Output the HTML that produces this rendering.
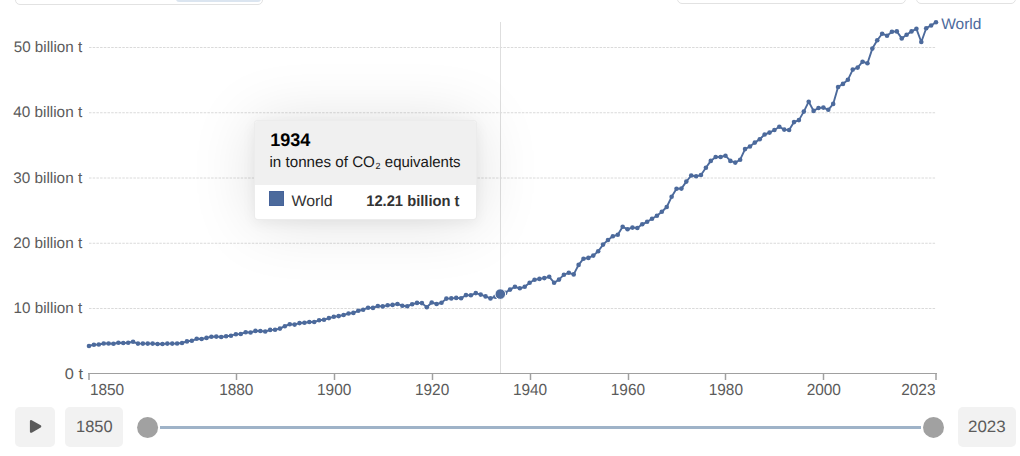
<!DOCTYPE html>
<html><head><meta charset="utf-8">
<style>
html,body{margin:0;padding:0;background:#fff;}
body{width:1020px;height:456px;position:relative;overflow:hidden;font-family:"Liberation Sans",sans-serif;}
.box{position:absolute;border:1px solid #e2e2e2;border-radius:5px;background:#fff;box-sizing:border-box;}
svg{position:absolute;left:0;top:0;}
text{font-family:"Liberation Sans",sans-serif;text-rendering:geometricPrecision;}
.tip{position:absolute;left:254px;top:120px;width:222px;height:100px;border-radius:5px;background:#fff;
  box-shadow:0 3px 14px rgba(0,0,0,0.06),0 2px 64px rgba(0,0,0,0.125);overflow:hidden;border:1px solid rgba(0,0,0,0.075);box-sizing:border-box;width:223px;border-radius:4px;}
.btn{position:absolute;top:407px;height:40px;background:#f2f2f2;border-radius:5px;}
</style></head><body>
<div class="box" style="left:15px;top:-40px;width:248px;height:45px;"></div>
<div style="position:absolute;left:176px;top:-10px;width:85px;height:12px;background:#dbe5f0;border-radius:3px;"></div>
<div class="box" style="left:677px;top:-40px;width:229px;height:44px;"></div>
<div class="box" style="left:916px;top:-40px;width:100px;height:44px;"></div>

<svg width="1020" height="456" viewBox="0 0 1020 456">
 <g stroke="#dadada" stroke-width="1" stroke-dasharray="2.5,1.2"><line x1="89" y1="47.5" x2="935.5" y2="47.5"/><line x1="89" y1="112.75" x2="935.5" y2="112.75"/><line x1="89" y1="178" x2="935.5" y2="178"/><line x1="89" y1="243.25" x2="935.5" y2="243.25"/><line x1="89" y1="308.5" x2="935.5" y2="308.5"/></g>
 <g><text x="13.7" y="52" font-size="15.3" fill="#5b5b5b" textLength="68.5" lengthAdjust="spacingAndGlyphs">50 billion t</text><text x="13.2" y="117.25" font-size="15.3" fill="#5b5b5b" textLength="69.0" lengthAdjust="spacingAndGlyphs">40 billion t</text><text x="13.2" y="182.5" font-size="15.3" fill="#5b5b5b" textLength="69.0" lengthAdjust="spacingAndGlyphs">30 billion t</text><text x="13.2" y="247.75" font-size="15.3" fill="#5b5b5b" textLength="69.0" lengthAdjust="spacingAndGlyphs">20 billion t</text><text x="13.6" y="313" font-size="15.3" fill="#5b5b5b" textLength="68.6" lengthAdjust="spacingAndGlyphs">10 billion t</text><text x="64.8" y="379" font-size="15.3" fill="#5b5b5b" textLength="18.2" lengthAdjust="spacingAndGlyphs">0 t</text></g>
 <line x1="500.5" y1="22" x2="500.5" y2="373.5" stroke="#dedede" stroke-width="1"/>
 <line x1="88" y1="373.5" x2="937" y2="373.5" stroke="#a0a0a0" stroke-width="1.2"/>
 <g stroke="#a0a0a0" stroke-width="1.5"><line x1="89.00" y1="374" x2="89.00" y2="380"/><line x1="236.50" y1="374" x2="236.50" y2="380"/><line x1="334.50" y1="374" x2="334.50" y2="380"/><line x1="432.50" y1="374" x2="432.50" y2="380"/><line x1="530.50" y1="374" x2="530.50" y2="380"/><line x1="628.50" y1="374" x2="628.50" y2="380"/><line x1="725.50" y1="374" x2="725.50" y2="380"/><line x1="823.50" y1="374" x2="823.50" y2="380"/><line x1="936.00" y1="374" x2="936.00" y2="380"/></g>
 <g><text x="89.9" y="395" font-size="16" fill="#5b5b5b" textLength="34.3" lengthAdjust="spacingAndGlyphs">1850</text><text x="219.13" y="395" font-size="16" fill="#5b5b5b" textLength="34.3" lengthAdjust="spacingAndGlyphs">1880</text><text x="317.05" y="395" font-size="16" fill="#5b5b5b" textLength="34.3" lengthAdjust="spacingAndGlyphs">1900</text><text x="414.97" y="395" font-size="16" fill="#5b5b5b" textLength="34.3" lengthAdjust="spacingAndGlyphs">1920</text><text x="512.89" y="395" font-size="16" fill="#5b5b5b" textLength="34.3" lengthAdjust="spacingAndGlyphs">1940</text><text x="610.8" y="395" font-size="16" fill="#5b5b5b" textLength="34.3" lengthAdjust="spacingAndGlyphs">1960</text><text x="708.72" y="395" font-size="16" fill="#5b5b5b" textLength="34.3" lengthAdjust="spacingAndGlyphs">1980</text><text x="806.64" y="395" font-size="16" fill="#5b5b5b" textLength="34.3" lengthAdjust="spacingAndGlyphs">2000</text><text x="901.2" y="395" font-size="16" fill="#5b5b5b" textLength="34.3" lengthAdjust="spacingAndGlyphs">2023</text></g>
 <path d="M89.00,346.00 L93.90,344.70 L98.79,344.50 L103.69,343.50 L108.58,343.50 L113.48,343.70 L118.38,342.70 L123.27,343.00 L128.17,342.70 L133.06,341.80 L137.96,343.60 L142.86,343.60 L147.75,343.60 L152.65,343.60 L157.54,344.00 L162.44,344.00 L167.34,343.60 L172.23,343.60 L177.13,343.50 L182.02,343.00 L186.92,341.40 L191.82,340.80 L196.71,338.80 L201.61,339.00 L206.50,337.90 L211.40,336.80 L216.29,336.60 L221.19,337.00 L226.09,336.20 L230.98,335.70 L235.88,334.20 L240.77,334.00 L245.67,332.20 L250.57,332.50 L255.46,330.90 L260.36,331.00 L265.25,331.50 L270.15,329.90 L275.05,329.70 L279.94,328.60 L284.84,326.20 L289.73,324.20 L294.63,324.60 L299.53,323.10 L304.42,322.70 L309.32,322.00 L314.21,322.00 L319.11,320.30 L324.01,319.80 L328.90,318.10 L333.80,316.80 L338.69,316.10 L343.59,315.00 L348.49,313.50 L353.38,312.90 L358.28,310.80 L363.17,309.70 L368.07,307.70 L372.97,307.90 L377.86,306.00 L382.76,306.40 L387.65,305.30 L392.55,304.90 L397.45,304.00 L402.34,305.70 L407.24,306.20 L412.13,304.20 L417.03,302.90 L421.92,303.10 L426.82,307.30 L431.72,302.50 L436.61,304.00 L441.51,302.80 L446.40,298.60 L451.30,298.40 L456.20,297.90 L461.09,298.20 L465.99,295.10 L470.88,295.30 L475.78,293.10 L480.68,294.60 L485.57,296.40 L490.47,298.40 L495.36,296.70 L500.26,294.20 L505.16,292.90 L510.05,289.60 L514.95,286.80 L519.84,288.30 L524.74,286.80 L529.64,282.80 L534.53,279.80 L539.43,278.90 L544.32,278.10 L549.22,276.80 L554.12,282.70 L559.01,279.60 L563.91,274.70 L568.80,272.80 L573.70,274.40 L578.60,264.90 L583.49,258.70 L588.39,257.90 L593.28,255.60 L598.18,251.20 L603.08,244.60 L607.97,240.00 L612.87,236.30 L617.76,234.70 L622.66,226.80 L627.55,229.20 L632.45,227.60 L637.35,228.00 L642.24,224.30 L647.14,221.80 L652.03,218.80 L656.93,215.80 L661.83,211.80 L666.72,207.00 L671.62,196.80 L676.51,188.70 L681.41,188.60 L686.31,181.60 L691.20,175.50 L696.10,176.30 L700.99,175.00 L705.89,167.80 L710.79,160.90 L715.68,157.00 L720.58,157.00 L725.47,155.70 L730.37,160.90 L735.27,162.60 L740.16,159.70 L745.06,149.10 L749.95,146.50 L754.85,142.60 L759.75,139.20 L764.64,134.50 L769.54,132.60 L774.43,130.00 L779.33,126.80 L784.23,129.60 L789.12,130.00 L794.02,122.10 L798.91,120.10 L803.81,111.60 L808.71,101.70 L813.60,110.90 L818.50,108.00 L823.39,107.60 L828.29,109.80 L833.18,103.90 L838.08,87.00 L842.98,83.90 L847.87,79.80 L852.77,69.60 L857.66,67.60 L862.56,61.70 L867.46,63.30 L872.35,48.60 L877.25,40.30 L882.14,33.70 L887.04,35.70 L891.94,31.80 L896.83,31.40 L901.73,38.40 L906.62,34.70 L911.52,31.40 L916.42,28.80 L921.31,42.00 L926.21,28.20 L931.10,25.50 L936.00,22.20" fill="none" stroke="#4c6a9c" stroke-width="1.9" stroke-linejoin="round"/>
 <g fill="#4c6a9c"><circle cx="89.00" cy="346.00" r="2.3"/><circle cx="93.90" cy="344.70" r="2.3"/><circle cx="98.79" cy="344.50" r="2.3"/><circle cx="103.69" cy="343.50" r="2.3"/><circle cx="108.58" cy="343.50" r="2.3"/><circle cx="113.48" cy="343.70" r="2.3"/><circle cx="118.38" cy="342.70" r="2.3"/><circle cx="123.27" cy="343.00" r="2.3"/><circle cx="128.17" cy="342.70" r="2.3"/><circle cx="133.06" cy="341.80" r="2.3"/><circle cx="137.96" cy="343.60" r="2.3"/><circle cx="142.86" cy="343.60" r="2.3"/><circle cx="147.75" cy="343.60" r="2.3"/><circle cx="152.65" cy="343.60" r="2.3"/><circle cx="157.54" cy="344.00" r="2.3"/><circle cx="162.44" cy="344.00" r="2.3"/><circle cx="167.34" cy="343.60" r="2.3"/><circle cx="172.23" cy="343.60" r="2.3"/><circle cx="177.13" cy="343.50" r="2.3"/><circle cx="182.02" cy="343.00" r="2.3"/><circle cx="186.92" cy="341.40" r="2.3"/><circle cx="191.82" cy="340.80" r="2.3"/><circle cx="196.71" cy="338.80" r="2.3"/><circle cx="201.61" cy="339.00" r="2.3"/><circle cx="206.50" cy="337.90" r="2.3"/><circle cx="211.40" cy="336.80" r="2.3"/><circle cx="216.29" cy="336.60" r="2.3"/><circle cx="221.19" cy="337.00" r="2.3"/><circle cx="226.09" cy="336.20" r="2.3"/><circle cx="230.98" cy="335.70" r="2.3"/><circle cx="235.88" cy="334.20" r="2.3"/><circle cx="240.77" cy="334.00" r="2.3"/><circle cx="245.67" cy="332.20" r="2.3"/><circle cx="250.57" cy="332.50" r="2.3"/><circle cx="255.46" cy="330.90" r="2.3"/><circle cx="260.36" cy="331.00" r="2.3"/><circle cx="265.25" cy="331.50" r="2.3"/><circle cx="270.15" cy="329.90" r="2.3"/><circle cx="275.05" cy="329.70" r="2.3"/><circle cx="279.94" cy="328.60" r="2.3"/><circle cx="284.84" cy="326.20" r="2.3"/><circle cx="289.73" cy="324.20" r="2.3"/><circle cx="294.63" cy="324.60" r="2.3"/><circle cx="299.53" cy="323.10" r="2.3"/><circle cx="304.42" cy="322.70" r="2.3"/><circle cx="309.32" cy="322.00" r="2.3"/><circle cx="314.21" cy="322.00" r="2.3"/><circle cx="319.11" cy="320.30" r="2.3"/><circle cx="324.01" cy="319.80" r="2.3"/><circle cx="328.90" cy="318.10" r="2.3"/><circle cx="333.80" cy="316.80" r="2.3"/><circle cx="338.69" cy="316.10" r="2.3"/><circle cx="343.59" cy="315.00" r="2.3"/><circle cx="348.49" cy="313.50" r="2.3"/><circle cx="353.38" cy="312.90" r="2.3"/><circle cx="358.28" cy="310.80" r="2.3"/><circle cx="363.17" cy="309.70" r="2.3"/><circle cx="368.07" cy="307.70" r="2.3"/><circle cx="372.97" cy="307.90" r="2.3"/><circle cx="377.86" cy="306.00" r="2.3"/><circle cx="382.76" cy="306.40" r="2.3"/><circle cx="387.65" cy="305.30" r="2.3"/><circle cx="392.55" cy="304.90" r="2.3"/><circle cx="397.45" cy="304.00" r="2.3"/><circle cx="402.34" cy="305.70" r="2.3"/><circle cx="407.24" cy="306.20" r="2.3"/><circle cx="412.13" cy="304.20" r="2.3"/><circle cx="417.03" cy="302.90" r="2.3"/><circle cx="421.92" cy="303.10" r="2.3"/><circle cx="426.82" cy="307.30" r="2.3"/><circle cx="431.72" cy="302.50" r="2.3"/><circle cx="436.61" cy="304.00" r="2.3"/><circle cx="441.51" cy="302.80" r="2.3"/><circle cx="446.40" cy="298.60" r="2.3"/><circle cx="451.30" cy="298.40" r="2.3"/><circle cx="456.20" cy="297.90" r="2.3"/><circle cx="461.09" cy="298.20" r="2.3"/><circle cx="465.99" cy="295.10" r="2.3"/><circle cx="470.88" cy="295.30" r="2.3"/><circle cx="475.78" cy="293.10" r="2.3"/><circle cx="480.68" cy="294.60" r="2.3"/><circle cx="485.57" cy="296.40" r="2.3"/><circle cx="490.47" cy="298.40" r="2.3"/><circle cx="495.36" cy="296.70" r="2.3"/><circle cx="505.16" cy="292.90" r="2.3"/><circle cx="510.05" cy="289.60" r="2.3"/><circle cx="514.95" cy="286.80" r="2.3"/><circle cx="519.84" cy="288.30" r="2.3"/><circle cx="524.74" cy="286.80" r="2.3"/><circle cx="529.64" cy="282.80" r="2.3"/><circle cx="534.53" cy="279.80" r="2.3"/><circle cx="539.43" cy="278.90" r="2.3"/><circle cx="544.32" cy="278.10" r="2.3"/><circle cx="549.22" cy="276.80" r="2.3"/><circle cx="554.12" cy="282.70" r="2.3"/><circle cx="559.01" cy="279.60" r="2.3"/><circle cx="563.91" cy="274.70" r="2.3"/><circle cx="568.80" cy="272.80" r="2.3"/><circle cx="573.70" cy="274.40" r="2.3"/><circle cx="578.60" cy="264.90" r="2.3"/><circle cx="583.49" cy="258.70" r="2.3"/><circle cx="588.39" cy="257.90" r="2.3"/><circle cx="593.28" cy="255.60" r="2.3"/><circle cx="598.18" cy="251.20" r="2.3"/><circle cx="603.08" cy="244.60" r="2.3"/><circle cx="607.97" cy="240.00" r="2.3"/><circle cx="612.87" cy="236.30" r="2.3"/><circle cx="617.76" cy="234.70" r="2.3"/><circle cx="622.66" cy="226.80" r="2.3"/><circle cx="627.55" cy="229.20" r="2.3"/><circle cx="632.45" cy="227.60" r="2.3"/><circle cx="637.35" cy="228.00" r="2.3"/><circle cx="642.24" cy="224.30" r="2.3"/><circle cx="647.14" cy="221.80" r="2.3"/><circle cx="652.03" cy="218.80" r="2.3"/><circle cx="656.93" cy="215.80" r="2.3"/><circle cx="661.83" cy="211.80" r="2.3"/><circle cx="666.72" cy="207.00" r="2.3"/><circle cx="671.62" cy="196.80" r="2.3"/><circle cx="676.51" cy="188.70" r="2.3"/><circle cx="681.41" cy="188.60" r="2.3"/><circle cx="686.31" cy="181.60" r="2.3"/><circle cx="691.20" cy="175.50" r="2.3"/><circle cx="696.10" cy="176.30" r="2.3"/><circle cx="700.99" cy="175.00" r="2.3"/><circle cx="705.89" cy="167.80" r="2.3"/><circle cx="710.79" cy="160.90" r="2.3"/><circle cx="715.68" cy="157.00" r="2.3"/><circle cx="720.58" cy="157.00" r="2.3"/><circle cx="725.47" cy="155.70" r="2.3"/><circle cx="730.37" cy="160.90" r="2.3"/><circle cx="735.27" cy="162.60" r="2.3"/><circle cx="740.16" cy="159.70" r="2.3"/><circle cx="745.06" cy="149.10" r="2.3"/><circle cx="749.95" cy="146.50" r="2.3"/><circle cx="754.85" cy="142.60" r="2.3"/><circle cx="759.75" cy="139.20" r="2.3"/><circle cx="764.64" cy="134.50" r="2.3"/><circle cx="769.54" cy="132.60" r="2.3"/><circle cx="774.43" cy="130.00" r="2.3"/><circle cx="779.33" cy="126.80" r="2.3"/><circle cx="784.23" cy="129.60" r="2.3"/><circle cx="789.12" cy="130.00" r="2.3"/><circle cx="794.02" cy="122.10" r="2.3"/><circle cx="798.91" cy="120.10" r="2.3"/><circle cx="803.81" cy="111.60" r="2.3"/><circle cx="808.71" cy="101.70" r="2.3"/><circle cx="813.60" cy="110.90" r="2.3"/><circle cx="818.50" cy="108.00" r="2.3"/><circle cx="823.39" cy="107.60" r="2.3"/><circle cx="828.29" cy="109.80" r="2.3"/><circle cx="833.18" cy="103.90" r="2.3"/><circle cx="838.08" cy="87.00" r="2.3"/><circle cx="842.98" cy="83.90" r="2.3"/><circle cx="847.87" cy="79.80" r="2.3"/><circle cx="852.77" cy="69.60" r="2.3"/><circle cx="857.66" cy="67.60" r="2.3"/><circle cx="862.56" cy="61.70" r="2.3"/><circle cx="867.46" cy="63.30" r="2.3"/><circle cx="872.35" cy="48.60" r="2.3"/><circle cx="877.25" cy="40.30" r="2.3"/><circle cx="882.14" cy="33.70" r="2.3"/><circle cx="887.04" cy="35.70" r="2.3"/><circle cx="891.94" cy="31.80" r="2.3"/><circle cx="896.83" cy="31.40" r="2.3"/><circle cx="901.73" cy="38.40" r="2.3"/><circle cx="906.62" cy="34.70" r="2.3"/><circle cx="911.52" cy="31.40" r="2.3"/><circle cx="916.42" cy="28.80" r="2.3"/><circle cx="921.31" cy="42.00" r="2.3"/><circle cx="926.21" cy="28.20" r="2.3"/><circle cx="931.10" cy="25.50" r="2.3"/><circle cx="936.00" cy="22.20" r="2.3"/></g>
 <circle cx="500.3" cy="294.1" r="5.3" fill="#4c6a9c" stroke="#fff" stroke-width="1"/>
 <text x="941.2" y="28.8" font-size="15.3" fill="#4c6a9c" textLength="40.2" lengthAdjust="spacingAndGlyphs">World</text>
 <rect x="160" y="426" width="761" height="3" fill="#9fb3c8"/>
 <circle cx="147.6" cy="427.5" r="10.5" fill="#a1a1a1"/>
 <circle cx="933.5" cy="427.4" r="10.5" fill="#a1a1a1"/>
</svg>

<div class="tip">
 <div style="position:absolute;left:0;top:0;right:0;height:64px;background:#f0f0f0;"></div>
</div>
<svg width="1020" height="456" viewBox="0 0 1020 456">
 <text x="270.2" y="146" font-size="18.3" fill="#000" textLength="40.2" lengthAdjust="spacingAndGlyphs" font-weight="bold">1934</text>
 <text x="269.5" y="167" font-size="15.3" fill="#181818" textLength="105.4" lengthAdjust="spacingAndGlyphs">in tonnes of CO</text>
 <text x="375.6" y="169" font-size="9" fill="#181818" textLength="5" lengthAdjust="spacingAndGlyphs">2</text>
 <text x="384.8" y="167" font-size="15.3" fill="#181818" textLength="75.8" lengthAdjust="spacingAndGlyphs">equivalents</text>
 <rect x="269.5" y="191.5" width="14" height="14" fill="#4c6a9c" stroke="#46639a" stroke-width="1"/>
 <text x="291.4" y="206" font-size="15.3" fill="#333" textLength="41.3" lengthAdjust="spacingAndGlyphs">World</text>
 <text x="366.2" y="205.6" font-size="15.3" fill="#333" textLength="93.3" lengthAdjust="spacingAndGlyphs" font-weight="bold">12.21 billion t</text>
</svg>

<div class="btn" style="left:15px;width:40px;">
 <svg width="40" height="40" viewBox="0 0 40 40" style="left:0;top:0;"><path d="M16.1,14.2 L25.1,19.4 L16.1,24.6 Z" fill="#5b5b5b" stroke="#5b5b5b" stroke-width="2.4" stroke-linejoin="round"/></svg>
</div>
<div class="btn" style="left:65px;width:58px;"></div>
<div class="btn" style="left:958px;width:58px;"></div>
<svg width="1020" height="456" viewBox="0 0 1020 456">
 <text x="76.0" y="432.3" font-size="16.4" fill="#5b5b5b" textLength="36.6" lengthAdjust="spacingAndGlyphs">1850</text>
 <text x="968" y="432.3" font-size="16.4" fill="#5b5b5b" textLength="37.6" lengthAdjust="spacingAndGlyphs">2023</text>
</svg>
</body></html>
